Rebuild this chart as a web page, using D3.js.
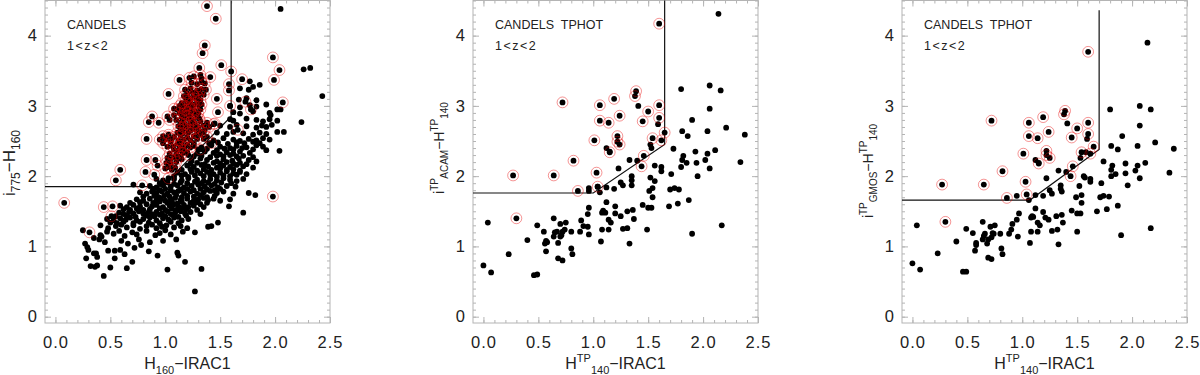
<!DOCTYPE html>
<html>
<head>
<meta charset="utf-8">
<script src="https://cdn.jsdelivr.net/npm/d3@7"></script>
<style>
  body { margin: 0; background: #fff; }
  text { font-family: "Liberation Sans", Arial, sans-serif; fill: #222; }
</style>
</head>
<body>
<svg id="chart" width="1200" height="375"></svg>
<script>
// tick values shared by all three panels
const xMajor = [0, 0.5, 1.0, 1.5, 2.0, 2.5];
const yMajor = [0, 1, 2, 3, 4];
const xDomain = [-0.095, 2.5];
const yDomain = [-0.09, 4.5];

// panel 1: CANDELS, plain black points
const black1 = [
  [0.25,1.23],[0.27,1.04],[0.29,0.99],[0.30,0.95],[0.28,0.83],[0.32,0.72],[0.36,0.71],[0.38,0.73],[0.37,0.90],[0.38,0.85],
  [0.35,0.90],[0.44,0.58],[0.50,0.70],[0.65,0.69],[0.48,0.94],[0.54,0.94],[0.54,0.83],[0.63,0.89],[0.70,0.78],[0.59,0.95],
  [0.72,0.98],[0.78,1.02],[0.66,1.04],[0.45,1.06],[0.40,1.10],[0.35,1.12],[0.42,1.14],[0.60,1.08],[0.86,1.06],[0.98,1.08],
  [1.10,1.10],[0.76,1.10],[0.93,0.87],[0.85,0.93],[1.02,0.67],[1.18,0.78],[1.11,0.91],[1.12,0.87],[1.27,0.36],[1.33,0.68],
  [0.41,1.16],[0.47,1.21],[0.53,1.18],[0.58,1.22],[0.63,1.15],[0.70,1.20],[0.74,1.17],[0.83,1.22],[0.91,1.16],[0.95,1.19],
  [1.00,1.23],[1.05,1.17],[1.16,1.21],[1.27,1.20],
  [0.41,1.30],[0.48,1.26],[0.55,1.29],[0.60,1.31],[0.65,1.27],[0.71,1.30],[0.77,1.25],[0.83,1.29],[0.88,1.31],[0.92,1.26],
  [0.97,1.28],[1.01,1.30],[1.08,1.27],[1.14,1.29],[1.20,1.26],[1.39,1.28],[1.42,1.29],
  [0.50,1.34],[0.56,1.33],[0.62,1.35],[0.71,1.33],[0.77,1.35],[0.85,1.34],[0.95,1.33],[1.05,1.35],[1.12,1.33],
  [0.47,1.39],[0.53,1.37],[0.59,1.40],[0.64,1.38],[0.68,1.41],[0.74,1.37],[0.80,1.39],[0.86,1.41],[0.92,1.37],[0.98,1.40],
  [1.03,1.38],[1.08,1.41],[1.15,1.37],[1.21,1.39],[1.48,1.34],
  [0.55,1.43],[0.65,1.44],[0.73,1.42],[0.83,1.44],[0.90,1.43],[0.95,1.45],[1.00,1.43],[1.07,1.45],[1.12,1.42],[1.19,1.44],
  [0.58,1.48],[0.62,1.46],[0.67,1.49],[0.71,1.47],[0.76,1.50],[0.80,1.47],[0.85,1.49],[0.88,1.46],[0.92,1.49],[0.97,1.47],
  [1.02,1.50],[1.05,1.46],[1.09,1.48],[1.14,1.50],[1.18,1.47],[1.23,1.49],[1.32,1.46],[1.71,1.48],
  [0.62,1.53],[0.68,1.52],[0.74,1.54],[0.80,1.52],[0.86,1.53],[0.95,1.54],[1.00,1.52],[1.06,1.54],[1.10,1.52],[1.15,1.54],
  [1.19,1.53],[1.29,1.52],
  [0.59,1.58],[0.65,1.56],[0.71,1.59],[0.77,1.57],[0.83,1.60],[0.88,1.57],[0.92,1.59],[0.98,1.56],[1.04,1.58],[1.08,1.60],
  [1.12,1.57],[1.17,1.59],[1.21,1.56],[1.26,1.58],[1.32,1.60],[1.35,1.56],[1.58,1.57],
  [0.68,1.62],[0.77,1.63],[0.89,1.62],[0.95,1.64],[1.02,1.62],[1.06,1.63],[1.11,1.61],[1.15,1.64],[1.23,1.62],[1.29,1.63],
  [1.38,1.62],
  [0.74,1.67],[0.80,1.65],[0.86,1.68],[0.92,1.66],[0.96,1.68],[1.00,1.65],[1.05,1.67],[1.09,1.69],[1.14,1.66],[1.20,1.68],
  [1.26,1.65],[1.30,1.67],[1.35,1.69],[1.39,1.66],[1.44,1.68],[1.50,1.65],[1.59,1.67],
  [0.80,1.71],[0.90,1.72],[0.94,1.70],[0.99,1.72],[1.04,1.71],[1.10,1.73],[1.15,1.70],[1.20,1.72],[1.26,1.71],[1.32,1.73],
  [1.38,1.70],[1.45,1.72],
  [0.77,1.77],[0.83,1.75],[0.88,1.78],[0.92,1.76],[0.97,1.78],[1.02,1.75],[1.08,1.77],[1.12,1.79],[1.17,1.76],[1.23,1.78],
  [1.29,1.75],[1.35,1.77],[1.41,1.79],[1.47,1.76],[1.53,1.78],[1.62,1.75],[1.76,1.76],[1.82,1.73],
  [0.89,1.81],[0.95,1.80],[1.00,1.82],[1.05,1.80],[1.14,1.81],[1.20,1.82],[1.26,1.80],[1.32,1.82],[1.38,1.81],[1.45,1.80],
  [1.50,1.82],
  [0.71,1.88],[0.86,1.86],[0.92,1.84],[0.98,1.87],[1.05,1.85],[1.11,1.87],[1.17,1.84],[1.24,1.86],[1.30,1.88],[1.36,1.85],
  [1.42,1.87],[1.48,1.84],[1.56,1.86],[1.64,1.85],
  [0.95,1.90],[1.02,1.91],[1.08,1.89],[1.14,1.91],[1.20,1.90],[1.27,1.92],[1.33,1.90],[1.39,1.91],[1.45,1.89],[1.51,1.91],
  [1.60,1.90],
  [0.92,1.96],[0.98,1.94],[1.08,1.96],[1.15,1.94],[1.21,1.97],[1.29,1.95],[1.35,1.93],[1.41,1.96],[1.47,1.94],[1.53,1.97],
  [1.59,1.95],[1.65,1.93],[1.71,1.96],
  [1.08,2.00],[1.15,2.01],[1.21,1.99],[1.27,2.01],[1.35,2.00],[1.41,2.02],[1.47,1.99],[1.53,2.01],[1.59,2.00],[1.65,2.02],
  [1.11,2.05],[1.18,2.03],[1.24,2.06],[1.32,2.04],[1.38,2.06],[1.44,2.03],[1.50,2.05],[1.56,2.07],[1.62,2.04],[1.68,2.06],
  [1.74,2.03],
  [1.15,2.09],[1.23,2.10],[1.29,2.08],[1.35,2.10],[1.42,2.09],[1.50,2.11],[1.56,2.09],[1.62,2.10],[1.68,2.08],
  [1.20,2.15],[1.26,2.13],[1.33,2.16],[1.39,2.14],[1.47,2.12],[1.53,2.15],[1.59,2.13],[1.65,2.16],[1.71,2.14],[1.80,2.12],
  [1.23,2.18],[1.29,2.19],[1.36,2.17],[1.44,2.19],[1.50,2.18],[1.56,2.20],[1.62,2.18],[1.68,2.19],[1.74,2.17],
  [1.15,2.24],[1.24,2.22],[1.32,2.25],[1.38,2.23],[1.47,2.21],[1.53,2.24],[1.61,2.22],[1.67,2.25],[1.76,2.23],[1.83,2.21],
  [1.26,2.28],[1.33,2.29],[1.41,2.27],[1.47,2.29],[1.53,2.28],[1.59,2.30],[1.65,2.28],[1.71,2.29],[1.80,2.27],
  [1.20,2.34],[1.29,2.32],[1.36,2.35],[1.44,2.33],[1.50,2.31],[1.56,2.34],[1.62,2.32],[1.68,2.35],[1.77,2.33],[1.92,2.37],
  [1.30,2.38],[1.38,2.39],[1.47,2.37],[1.54,2.39],[1.62,2.38],[1.70,2.40],[1.80,2.38],
  [1.26,2.43],[1.33,2.41],[1.42,2.44],[1.50,2.42],[1.59,2.40],[1.65,2.43],[1.74,2.41],[1.83,2.44],[1.89,2.42],
  [1.40,2.47],[1.48,2.48],[1.57,2.46],[1.65,2.48],[1.72,2.47],[1.80,2.49],[1.86,2.47],
  [1.35,2.53],[1.44,2.51],[1.53,2.54],[1.62,2.52],[1.68,2.50],[1.76,2.53],[1.83,2.51],[1.89,2.54],[1.95,2.52],
  [1.47,2.62],[1.56,2.60],[1.62,2.63],[1.71,2.61],[1.80,2.59],[1.86,2.62],[1.92,2.60],[2.02,2.63],
  [1.50,2.72],[1.59,2.70],[1.65,2.73],[1.74,2.71],[1.83,2.69],[1.88,2.72],[1.92,2.70],[1.97,2.73],
  [1.59,2.81],[1.62,2.79],[1.74,2.82],[1.83,2.80],[1.89,2.78],[1.95,2.81],[2.02,2.79],
  [1.62,2.91],[1.68,2.89],[1.80,2.92],[1.95,2.90],
  [1.59,3.00],[1.68,2.98],[1.77,3.01],[1.83,2.99],[1.92,3.02],
  [1.67,3.09],[1.74,3.11],[1.83,3.08],[1.68,3.25],[1.76,3.23],[1.80,3.27],
  [2.05,4.38],[2.26,3.52],[2.32,3.54],[2.43,3.14],[2.24,2.77],[2.08,2.63],[2.04,2.36],[2.02,2.95],[2.05,2.95],
  [1.96,2.87],[1.77,3.35],[1.86,3.30]
];

// panel 1: points with a red ring
const ringed1 = [
  [1.38,4.42],[1.46,4.24],[1.36,3.86],[1.34,3.75],[1.31,3.54],[1.51,3.58],[1.60,3.49],[1.70,3.38],[1.98,3.69],[2.04,3.51],
  [1.99,3.37],[2.07,3.05],[1.78,2.95],[1.73,3.06],[1.66,2.66],[1.59,3.00],[1.58,3.31],[1.58,3.22],[1.48,2.91],[1.47,3.10],
  [1.45,2.75],[1.98,1.71],[0.08,1.62],[0.31,1.20],[0.44,1.56],[0.52,1.57],[0.51,1.43],[0.55,1.94],[0.59,2.09],[0.79,1.87],
  [0.83,2.53],[0.83,2.23],[0.82,2.06],[0.85,2.77],[0.88,2.85],[0.94,2.76],[0.91,2.23],[0.90,2.02],[0.93,2.15],[0.95,2.52],
  [1.03,3.17],[1.13,3.37],[1.22,3.40],[1.33,3.39],[1.41,3.41],[1.37,3.23],[1.04,2.80],[1.08,2.96],[1.03,2.56],[1.03,1.97],
  [1.32,2.38],[1.42,2.47],[1.07,2.42],
  [1.00,2.11],[1.03,2.13],[1.06,2.09],[1.09,2.12],
  [1.01,2.19],[1.05,2.17],[1.10,2.20],
  [1.02,2.26],[1.05,2.24],[1.08,2.27],[1.11,2.25],[1.14,2.28],
  [1.04,2.32],[1.10,2.31],[1.16,2.33],[1.21,2.30],
  [1.08,2.38],[1.11,2.36],[1.14,2.39],[1.17,2.37],
  [1.02,2.42],[1.13,2.43],[1.18,2.42],[1.23,2.41],
  [0.98,2.47],[1.05,2.49],[1.11,2.46],[1.15,2.48],[1.20,2.45],[1.26,2.47],
  [1.00,2.52],[1.06,2.53],[1.12,2.51],[1.17,2.52],[1.23,2.51],[1.29,2.53],
  [0.98,2.57],[1.03,2.59],[1.08,2.56],[1.14,2.58],[1.20,2.55],[1.26,2.57],[1.32,2.59],[1.38,2.56],
  [1.11,2.62],[1.16,2.61],[1.21,2.62],[1.29,2.61],[1.35,2.62],
  [1.14,2.66],[1.18,2.68],[1.23,2.65],[1.27,2.67],[1.32,2.64],[1.36,2.66],
  [1.12,2.71],[1.16,2.70],[1.21,2.72],[1.25,2.71],[1.30,2.70],[1.35,2.72],[1.40,2.70],
  [1.14,2.76],[1.18,2.74],[1.23,2.77],[1.27,2.75],[1.32,2.78],[1.38,2.76],[1.44,2.74],
  [1.10,2.80],[1.17,2.80],[1.22,2.81],[1.26,2.80],[1.31,2.82],
  [1.02,2.85],[1.08,2.87],[1.15,2.84],[1.20,2.86],[1.24,2.88],[1.29,2.85],
  [1.13,2.90],[1.17,2.89],[1.21,2.91],[1.26,2.90],[1.30,2.89],
  [1.11,2.95],[1.15,2.97],[1.18,2.94],[1.23,2.96],[1.27,2.93],[1.32,2.95],
  [1.13,3.00],[1.18,3.00],[1.22,2.99],[1.26,3.01],[1.31,2.99],
  [1.15,3.04],[1.20,3.06],[1.24,3.03],[1.29,3.05],[1.33,3.02],
  [1.19,3.09],[1.23,3.09],[1.28,3.10],[1.32,3.08],
  [1.17,3.14],[1.21,3.12],[1.26,3.15],[1.30,3.13],[1.35,3.16],
  [1.20,3.18],[1.25,3.19],[1.31,3.18],
  [1.18,3.23],[1.23,3.25],[1.29,3.22],[1.33,3.24],
  [1.24,3.33],[1.29,3.31],[1.33,3.34],[1.36,3.32],[1.26,3.42],[1.32,3.44]
];

// panel 2: CANDELS TPHOT, ACAM
const black2 = [
  [2.14,4.31],[1.80,3.24],[2.06,3.29],[2.16,3.22],[2.06,2.96],[2.21,2.69],[2.38,2.59],[1.90,2.80],[1.81,2.64],[1.86,2.57],
  [2.04,2.64],[1.73,2.39],[1.93,2.35],[2.11,2.37],[2.04,2.32],[1.82,2.29],[1.81,2.23],[2.02,2.23],[1.94,2.19],[1.85,2.19],
  [1.80,2.13],[2.06,2.11],[2.34,2.20],[1.95,2.00],[1.71,2.03],[1.62,2.13],[1.62,2.07],[1.56,2.15],[1.74,1.83],[1.70,1.81],
  [1.78,1.81],[1.77,1.61],[1.69,1.57],[1.87,1.66],[2.17,1.30],[1.90,1.18],[1.56,1.93],[1.52,1.98],[1.54,1.83],[1.51,1.79],
  [1.54,1.70],[1.50,1.55],[1.53,1.55],[1.45,1.59],[1.49,1.24],[1.52,2.45],[1.53,2.40],[1.40,2.22],[1.41,3.00],[1.59,2.74],
  [1.33,2.23],[1.35,2.00],[1.35,1.94],[1.35,1.87],[1.23,2.11],[1.25,1.91],[1.27,1.87],[1.19,1.82],[1.12,2.40],[1.15,2.35],
  [1.12,1.84],[1.12,1.63],[1.20,1.57],[1.20,1.47],[1.25,1.43],[1.31,1.50],[1.36,1.52],[1.37,1.39],[1.31,1.26],[1.27,1.25],
  [1.33,1.04],[1.14,1.38],[1.16,1.34],[1.14,1.24],[1.08,1.24],[1.09,1.51],[1.08,1.48],[1.11,1.48],[1.07,1.07],[1.06,1.77],
  [1.04,1.85],[0.96,1.83],[0.96,1.79],[0.96,1.55],[0.95,1.46],[0.95,1.28],[0.96,1.17],[0.91,1.29],[0.89,1.37],[0.88,1.21],
  [0.80,1.21],[0.80,0.97],[0.81,0.89],[0.75,1.34],[0.74,1.24],[0.70,1.32],[0.72,1.21],[0.71,1.16],[0.70,1.14],[0.68,1.05],
  [0.67,1.21],[0.65,1.20],[0.64,1.14],[0.64,1.40],[0.68,0.83],[0.72,0.80],[0.57,1.08],[0.58,1.06],[0.56,1.04],[0.57,0.93],
  [0.55,1.21],[0.49,1.30],[0.40,1.09],[0.23,0.89],[0.04,1.34],[0.00,0.73],[0.07,0.63],[0.46,0.59],[0.49,0.60]
];
const ringed2 = [
  [1.60,4.17],[0.72,3.05],[0.27,2.01],[0.64,2.01],[0.30,1.40],[0.82,2.22],[0.86,1.79],[1.01,2.51],[1.03,2.05],[1.04,1.85],
  [1.06,3.01],[1.06,2.79],[1.14,2.76],[1.15,2.34],[1.19,3.10],[1.24,2.86],[1.22,2.57],[1.22,2.49],[1.24,2.45],[1.39,3.21],
  [1.38,3.14],[1.50,2.92],[1.45,2.78],[1.60,3.01],[1.60,2.83],[1.65,2.62],[1.54,2.54],[1.62,2.51],[1.46,2.29],[1.44,2.14]
];

// panel 3: CANDELS TPHOT, GMOS
const black3 = [
  [2.14,3.90],[1.80,2.95],[2.07,3.00],[2.17,2.95],[2.07,2.72],[2.21,2.48],[2.38,2.39],[1.91,2.57],[1.81,2.43],[1.87,2.38],
  [2.05,2.43],[1.74,2.21],[1.94,2.18],[2.12,2.19],[2.05,2.15],[1.82,2.15],[1.81,2.09],[2.03,2.08],[1.94,2.04],[1.85,2.03],
  [1.81,2.00],[2.07,1.97],[2.34,2.05],[1.96,1.87],[1.72,1.90],[1.62,1.96],[1.62,1.92],[1.57,1.98],[1.74,1.72],[1.71,1.70],
  [1.79,1.71],[1.77,1.53],[1.68,1.50],[1.87,1.58],[2.17,1.26],[1.90,1.16],[1.56,2.00],[1.52,1.86],[1.54,1.73],[1.49,1.70],
  [1.54,1.62],[1.50,1.47],[1.53,1.47],[1.45,1.51],[1.50,1.21],[1.58,2.34],[1.53,2.26],[1.40,2.06],[1.41,2.75],[1.59,2.53],
  [1.33,2.08],[1.35,1.87],[1.35,1.82],[1.36,1.78],[1.22,1.97],[1.25,1.80],[1.27,1.75],[1.19,1.72],[1.12,2.23],[1.15,2.19],
  [1.12,1.73],[1.12,1.54],[1.19,1.49],[1.21,1.41],[1.24,1.38],[1.31,1.43],[1.36,1.45],[1.37,1.34],[1.32,1.24],[1.27,1.22],
  [1.33,1.03],[1.14,1.34],[1.16,1.30],[1.14,1.21],[1.08,1.21],[1.09,1.43],[1.08,1.41],[1.10,1.42],[1.07,1.05],[1.06,1.66],
  [0.95,1.72],[0.97,1.47],[0.95,1.38],[0.96,1.14],[0.91,1.32],[0.90,1.24],[0.88,1.18],[0.80,1.18],[0.81,0.97],[0.82,0.89],
  [0.75,1.30],[0.74,1.18],[0.71,1.28],[0.73,1.19],[0.72,1.13],[0.69,1.10],[0.68,1.04],[0.66,1.18],[0.65,1.15],[0.64,1.10],
  [0.64,1.35],[0.69,0.84],[0.72,0.82],[0.58,1.05],[0.58,1.02],[0.57,0.94],[0.55,1.19],[0.49,1.25],[0.40,1.07],[0.23,0.90],
  [0.04,1.30],[0.00,0.76],[0.07,0.67],[0.46,0.64],[0.49,0.64]
];
const ringed3 = [
  [1.60,3.77],[0.72,2.79],[0.27,1.88],[0.65,1.88],[0.30,1.35],[0.82,2.07],[0.86,1.69],[1.01,2.32],[1.03,1.92],[1.04,1.74],
  [1.06,2.76],[1.06,2.57],[1.14,2.54],[1.15,2.18],[1.19,2.84],[1.24,2.63],[1.22,2.36],[1.22,2.30],[1.25,2.26],[1.39,2.93],
  [1.38,2.88],[1.50,2.68],[1.45,2.55],[1.60,2.76],[1.60,2.60],[1.65,2.42],[1.54,2.34],[1.62,2.32],[1.46,2.14],[1.44,2.00]
];

// selection boundaries
const cut1 = [[-0.095,1.85],[0.97,1.85],[1.60,2.85],[1.60,4.5]];
const cut2 = [[-0.095,1.76],[1.00,1.76],[1.65,2.45],[1.65,4.5]];
const cut3 = [[-0.095,1.66],[1.07,1.66],[1.70,2.38],[1.70,4.36]];

// label pieces: [text, "" | "sub" | "sup"]
const xLabel1 = [["H",""],["160","sub"],["\u2212IRAC1",""]];
const xLabelTP = [["H",""],["TP","sup"],["140","sub"],["\u2212IRAC1",""]];
const yLabel1 = [["i",""],["775","sub"],["\u2212H",""],["160","sub"]];
const yLabel2 = [["i",""],["TP","sup"],["ACAM","sub"],["\u2212H",""],["TP","sup"],["140","sub"]];
const yLabel3 = [["i",""],["TP","sup"],["GMOS","sub"],["\u2212H",""],["TP","sup"],["140","sub"]];

const panels = [
  { left: 45,  black: black1, ringed: ringed1, cut: cut1, title: "CANDELS",
    xLabel: xLabel1, yLabel: yLabel1, yLabelX: 15, yLabelY: 163, yFont: 17 },
  { left: 473, black: black2, ringed: ringed2, cut: cut2, title: "CANDELS  TPHOT",
    xLabel: xLabelTP, yLabel: yLabel2, yLabelX: 444, yLabelY: 148, yFont: 14 },
  { left: 902, black: black3, ringed: ringed3, cut: cut3, title: "CANDELS  TPHOT",
    xLabel: xLabelTP, yLabel: yLabel3, yLabelX: 873, yLabelY: 171, yFont: 14 }
];

const svg = d3.select("#chart");
const W = 285, yTop = 0.5, yBottom = 323;
const gray = "#b4b4b4";

function richText(sel, parts, size) {
  const small = Math.round(size * 0.68);
  let shift = 0;
  parts.forEach(([t, kind]) => {
    const target = kind === "sub" ? size * 0.32 : kind === "sup" ? -size * 0.45 : 0;
    sel.append("tspan")
      .attr("dy", target - shift)
      .attr("font-size", kind ? small : size)
      .text(t);
    shift = target;
  });
}

function drawPanel(p) {
  const x = d3.scaleLinear().domain(xDomain).range([p.left, p.left + W]);
  const y = d3.scaleLinear().domain(yDomain).range([yBottom, yTop]);
  const g = svg.append("g");

  const xMinor = d3.range(0, 2.51, 0.1).map(v => +v.toFixed(2));
  const yMinor = d3.range(0, 4.51, 0.1).map(v => +v.toFixed(2));

  const axes = [
    [d3.axisBottom(x), `translate(0,${yBottom})`, xMajor, xMinor, true],
    [d3.axisTop(x), `translate(0,${yTop})`, xMajor, xMinor, false],
    [d3.axisLeft(y), `translate(${p.left},0)`, yMajor, yMinor, true],
    [d3.axisRight(y), `translate(${p.left + W},0)`, yMajor, yMinor, false]
  ];
  axes.forEach(([axis, tr, major, minor, labels], i) => {
    const ax = g.append("g").attr("transform", tr)
      .call(axis.tickValues(minor).tickSize(-3).tickSizeOuter(0).tickFormat(""));
    ax.select(".domain").remove();
    ax.selectAll("line").attr("stroke", gray);
    const mx = g.append("g").attr("transform", tr)
      .call(axis.tickValues(major).tickSize(-6).tickSizeOuter(0)
        .tickPadding(i < 2 ? 13 : 8)
        .tickFormat(labels ? (i < 2 ? d3.format(".1f") : d3.format("d")) : ""));
    mx.select(".domain").remove();
    mx.selectAll("line").attr("stroke", gray);
    mx.selectAll("text").attr("font-size", 16.5).attr("fill", "#333")
      .attr("letter-spacing", i < 2 ? 1 : 0)
      .attr("font-family", "Liberation Sans, Arial, sans-serif");
  });

  g.append("rect")
    .attr("x", p.left).attr("y", yTop)
    .attr("width", W).attr("height", yBottom - yTop)
    .attr("fill", "none").attr("stroke", gray).attr("stroke-width", 1);

  // selection boundary
  g.append("path")
    .datum(p.cut)
    .attr("d", d3.line().x(d => x(d[0])).y(d => y(d[1])))
    .attr("fill", "none").attr("stroke", "#111").attr("stroke-width", 1.2);

  const all = p.black.concat(p.ringed);
  g.append("g").selectAll("circle").data(all).join("circle")
    .attr("cx", d => x(d[0])).attr("cy", d => y(d[1]))
    .attr("r", 2.9).attr("fill", "#000");

  // translucent red rings on top: crowded areas build up to a deeper red
  g.append("g").selectAll("circle").data(p.ringed).join("circle")
    .attr("cx", d => x(d[0])).attr("cy", d => y(d[1]))
    .attr("r", 5.4).attr("fill", "none")
    .attr("stroke", "#e80000").attr("stroke-opacity", 0.42).attr("stroke-width", 1);

  g.append("text").attr("x", p.left + 22).attr("y", 29)
    .attr("font-size", 12.5).style("white-space", "pre").text(p.title);
  g.append("text").attr("x", p.left + 22).attr("y", 50)
    .attr("font-size", 12.5).attr("letter-spacing", 1.5).text("1<z<2");

  const xl = g.append("text").attr("x", p.left + W / 2).attr("y", 369)
    .attr("text-anchor", "middle");
  richText(xl, p.xLabel, 16);

  const yl = g.append("text")
    .attr("transform", `translate(${p.yLabelX},${p.yLabelY}) rotate(-90)`)
    .attr("text-anchor", "middle");
  richText(yl, p.yLabel, p.yFont);
}

panels.forEach(drawPanel);
</script>
</body>
</html>
